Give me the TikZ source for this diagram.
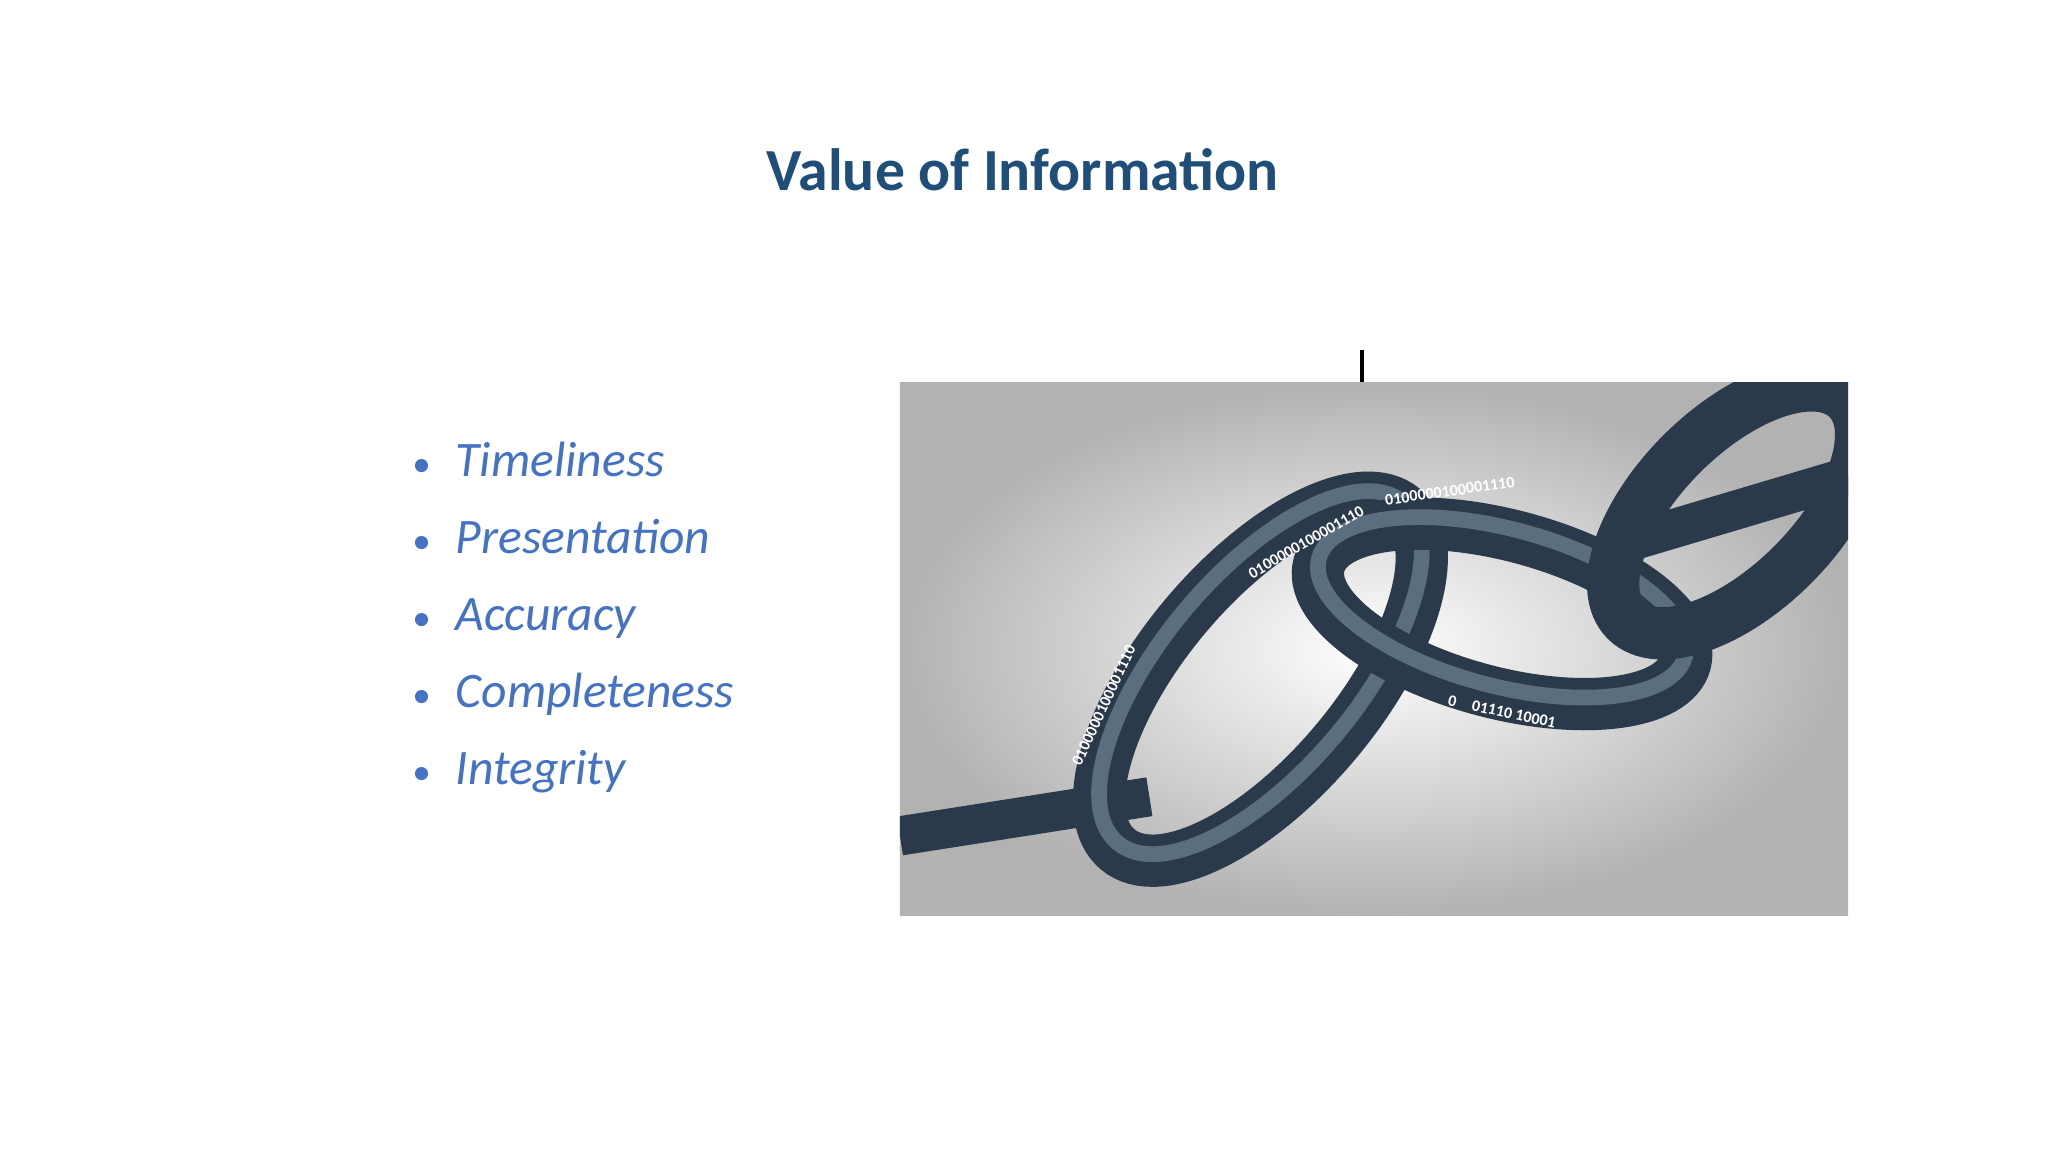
\documentclass[tikz,border=0pt]{standalone}
\usepackage{fontspec}
\setmainfont{Carlito}
\usetikzlibrary{shapes.geometric}
\definecolor{titleblue}{HTML}{1F4E79}
\definecolor{bulletblue}{HTML}{4472C4}
\definecolor{chaindark}{HTML}{2B3A4A}
\definecolor{chainmid}{HTML}{5A6E80}
\tikzset{
  bul/.style={anchor=base west,text=bulletblue,font=\fontsize{10.8}{13}\selectfont\itshape,inner sep=0pt},
  link/.style={draw=chaindark,line width=4mm,ellipse,inner sep=0pt},
  linkhi/.style={draw=chainmid,line width=1.2mm,ellipse,inner sep=0pt},
  bits/.style={text=white,font=\fontsize{3.5}{4}\selectfont\bfseries,inner sep=0pt}
}
\newcommand{\mybul}{{\upshape\scalebox{0.75}{\textbullet}}\hspace{0.5em}}
\begin{document}
\begin{tikzpicture}[x=0.01cm,y=-0.01cm]
\useasboundingbox (0,0) rectangle (1568,882);
\fill[white] (0,0) rectangle (1568,882);
\node[text=titleblue,font=\fontsize{13}{16}\selectfont\bfseries] (title) at (783,130) {Value of Information};
\node[bul] (b1) at (315,365) {\mybul Timeliness};
\node[bul] (b2) at (315,424) {\mybul Presentation};
\node[bul] (b3) at (315,483) {\mybul Accuracy};
\node[bul] (b4) at (315,542) {\mybul Completeness};
\node[bul] (b5) at (315,601) {\mybul Integrity};
\draw[line width=0.8pt] (1043,268) -- (1043,293);
\begin{scope}
\clip (689,293) rectangle (1415,701);
\shade[inner color=white,outer color=gray!60] (689,293) rectangle (1415,701);
\draw[chaindark,line width=3mm] (689,640) -- (880,610);
\draw[chaindark,line width=3mm] (1230,420) -- (1415,365);
\node[link,minimum width=3.4cm,minimum height=1.5cm,rotate=50] (l1) at (965,520) {};
\node[linkhi,minimum width=3.4cm,minimum height=1.5cm,rotate=50] at (965,515) {};
\node[link,minimum width=2.9cm,minimum height=1.2cm,rotate=-15] (l2) at (1150,470) {};
\node[linkhi,minimum width=2.9cm,minimum height=1.2cm,rotate=-15] at (1150,465) {};
\node[link,minimum width=2.4cm,minimum height=1.2cm,rotate=45] (l3) at (1330,390) {};
\node[bits,rotate=30] at (1000,415) {0100000100001110};
\node[bits,rotate=65] at (845,540) {0100000100001110};
\node[bits,rotate=8] at (1110,376) {0100000100001110};
\node[bits,rotate=-12] at (1150,545) {0\quad 01110 10001};
\end{scope}
\end{tikzpicture}
\end{document}
